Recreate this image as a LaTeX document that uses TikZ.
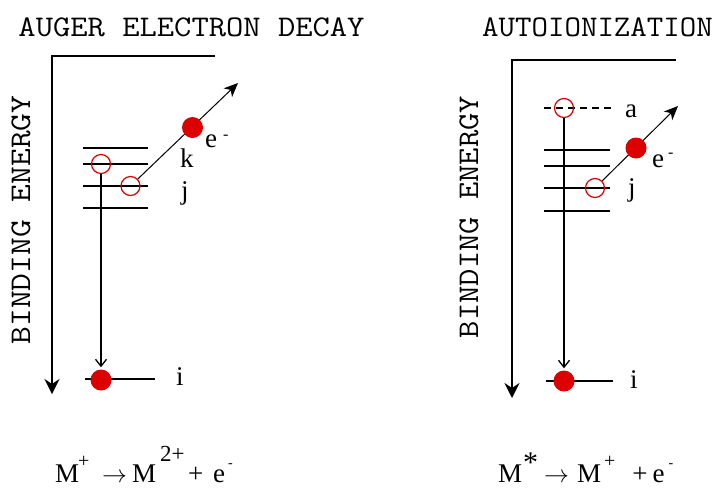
\documentclass[tikz,border=0pt]{standalone}
\usepackage{fontspec}
\usepackage{graphicx}
\setmainfont{Liberation Serif}
\usetikzlibrary{arrows.meta,backgrounds}
\definecolor{dotred}{RGB}{220,0,0}
\begin{document}
\begin{tikzpicture}[x=1pt,y=-1pt,
  axisline/.style={line width=1.6pt,line join=miter,-{Stealth[length=15pt,width=15pt,inset=5pt]}},
  lvl/.style={line width=1.5pt},
  dashlvl/.style={line width=1.2pt,dash pattern=on 7pt off 5pt},
  hole/.style={circle,draw=dotred,line width=1.2pt,minimum size=19pt,inner sep=0pt},
  elec/.style={circle,fill=dotred,minimum size=21pt,inner sep=0pt},
  decayarrow/.style={line width=1.3pt,shorten >=2pt,-{Straight Barb[length=7pt,width=11pt]}},
  eject/.style={line width=1pt,-{Stealth[length=14pt,width=12pt,inset=4pt]}},
  ttlstyle/.style={font=\ttfamily\fontsize{30}{30}\selectfont,inner sep=0pt,anchor=base},
  lab/.style={font=\fontsize{27}{27}\selectfont,inner sep=0pt,anchor=base west},
  eqn/.style={font=\fontsize{27}{27}\selectfont,inner sep=0pt,anchor=base west},
]
\useasboundingbox (0,0) rectangle (719,488);

% ---------- titles and axis labels
\node[ttlstyle] (t1) at (191.5,36) {\scalebox{1.12}[1]{AUGER ELECTRON DECAY}};
\node[ttlstyle] (t2) at (597.5,36) {\scalebox{1.066}[1]{AUTOIONIZATION}};
\node[ttlstyle,rotate=90] (be1) at (30,220) {\scalebox{1.15}[1]{BINDING ENERGY}};
\node[ttlstyle,rotate=90] (be2) at (478,217) {\scalebox{1.12}[1]{BINDING ENERGY}};

% ---------- left panel
\coordinate (axL0) at (215,56);
\coordinate (axL1) at (52,56);
\coordinate (axL2) at (52,394);
\draw[axisline] (axL0) -- (axL1) -- (axL2);

\draw[lvl] (83,148) -- (148,148);
\draw[lvl] (83,164) -- (148,164);
\draw[lvl] (83,186) -- (148,186);
\draw[lvl] (83,208) -- (148,208);
\draw[lvl] (85,379) -- (155,379);

\node[hole] (hk) at (101,164) {};
\node[hole] (hj) at (130.5,186) {};
\node[elec] (eL) at (192.5,127.5) {};
\node[elec] (iL) at (101,380) {};
\coordinate (tipL) at (238,83);

\begin{pgfonlayer}{background}
\draw[eject] (hj) -- (tipL);
\end{pgfonlayer}
\draw[decayarrow] (hk) -- (iL);

\node[lab] (lk) at (180,167) {k};
\node[lab] (lj) at (181,199) {j};
\node[lab] (li) at (176,385) {i};
\node[lab] (le) at (205,147) {e\hspace{6pt}\raisebox{8pt}{\fontsize{16}{16}\selectfont -}};

\node[eqn] (eq1) at (55,482) {M\hspace{-1pt}\raisebox{15pt}{\fontsize{20}{20}\selectfont +}\hspace{12.7pt}{\fontsize{25}{25}\selectfont$\rightarrow$}\hspace{5pt}M\hspace{4pt}\raisebox{21pt}{\fontsize{23}{23}\selectfont 2+}\hspace{3.5pt}+\hspace{9.8pt}e\hspace{3pt}\raisebox{14.5pt}{\fontsize{14}{14}\selectfont -}};

% ---------- right panel
\coordinate (axR0) at (676,60);
\coordinate (axR1) at (512,60);
\coordinate (axR2) at (512,398);
\draw[axisline] (axR0) -- (axR1) -- (axR2);

\draw[dashlvl] (544,108) -- (612,108);
\draw[lvl] (544,150) -- (610,150);
\draw[lvl] (544,166) -- (610,166);
\draw[lvl] (544,188) -- (610,188);
\draw[lvl] (544,211) -- (610,211);
\draw[lvl] (546,381) -- (613,381);

\node[hole] (ha) at (564,108) {};
\node[hole] (hj2) at (595,188) {};
\node[elec] (eR) at (636,148) {};
\node[elec] (iR) at (564,381) {};
\coordinate (tipR) at (678,106);

\begin{pgfonlayer}{background}
\draw[eject] (hj2) -- (tipR);
\end{pgfonlayer}
\draw[decayarrow] (ha) -- (iR);

\node[lab] (la) at (625,117) {a};
\node[lab] (lj2) at (628,196) {j};
\node[lab] (li2) at (630,388) {i};
\node[lab] (le2) at (652,167) {e\hspace{4pt}\raisebox{10pt}{\fontsize{16}{16}\selectfont -}};

\node[eqn] (eq2) at (498,482) {M\hspace{1pt}\raisebox{10pt}{\fontsize{30}{30}\selectfont *}\hspace{6pt}{\fontsize{25}{25}\selectfont$\rightarrow$}\hspace{8pt}M\hspace{3pt}\raisebox{15pt}{\fontsize{20}{20}\selectfont +}\hspace{17pt}+\hspace{5pt}e\hspace{4pt}\raisebox{14.5pt}{\fontsize{14}{14}\selectfont -}};
\end{tikzpicture}
\end{document}
